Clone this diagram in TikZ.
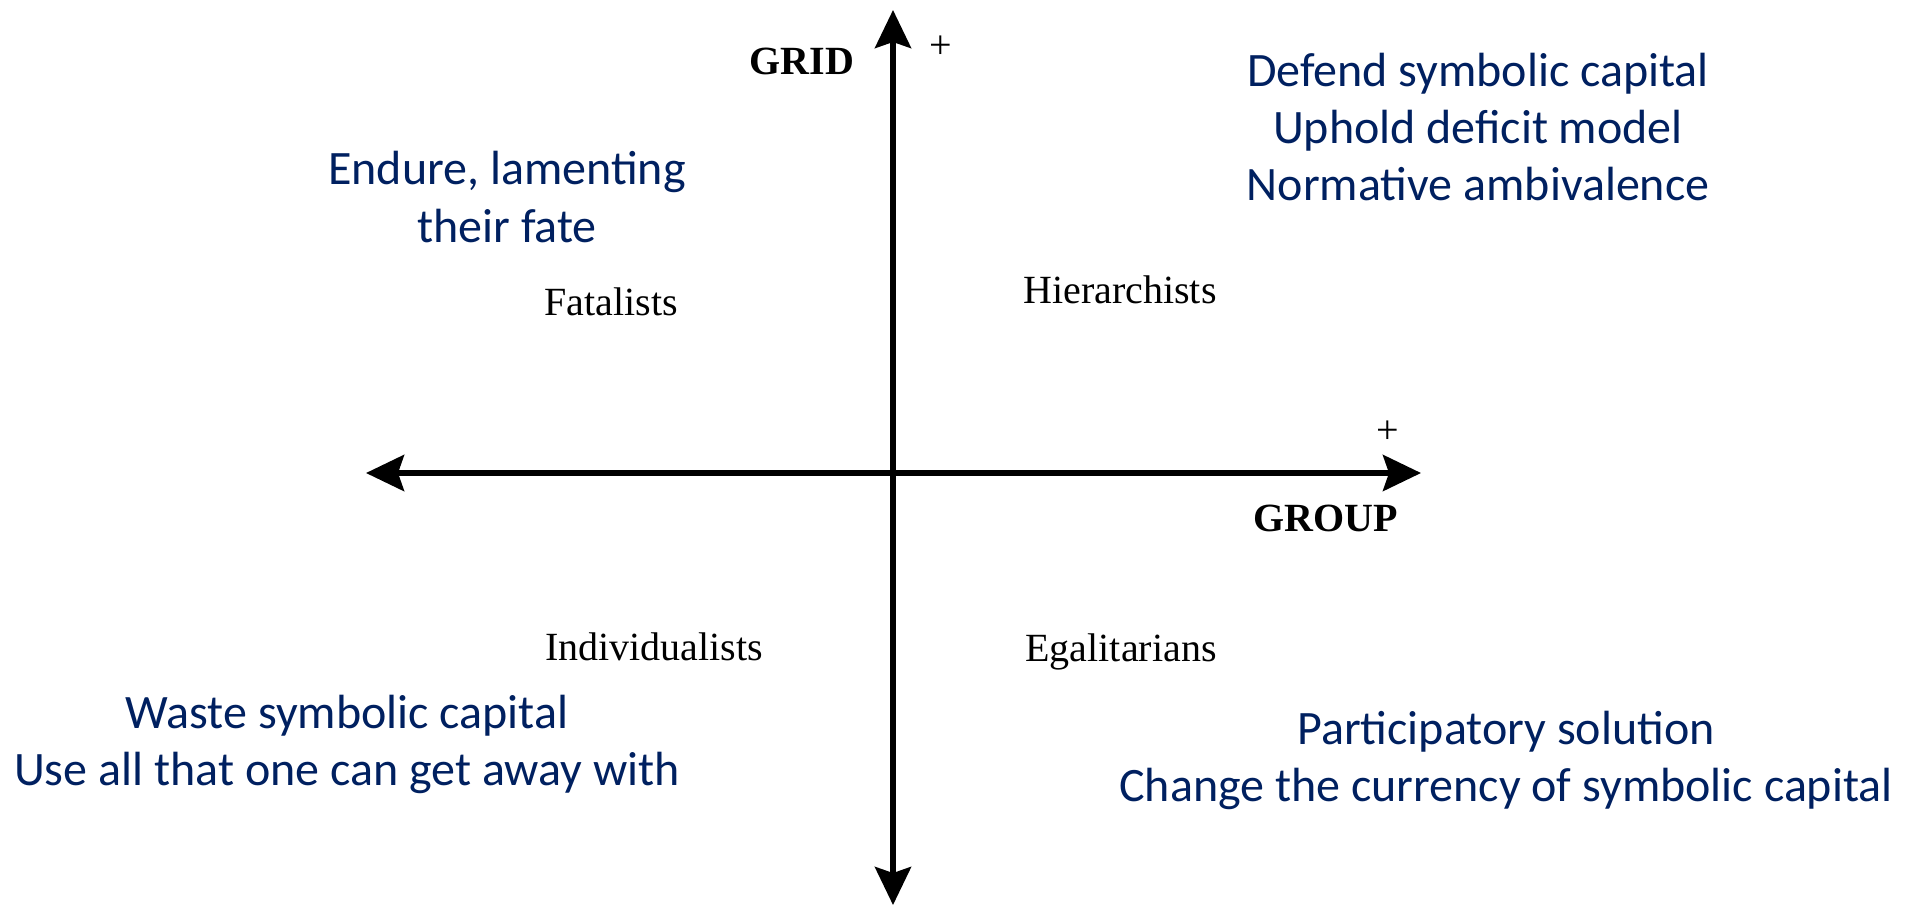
\documentclass[tikz,border=0pt]{standalone}
\usepackage{fontspec}
\setmainfont{Liberation Serif}
\newfontfamily\calibri{Carlito}
\usetikzlibrary{arrows.meta}
\definecolor{navy}{RGB}{0,32,96}
\begin{document}
\begin{tikzpicture}[x=0.5pt,y=-0.5pt,
	axis/.style={line width=2.8pt,{Stealth[length=19pt,width=18pt,inset=3pt]}-{Stealth[length=19pt,width=18pt,inset=3pt]}},
	type/.style={font=\fontsize{20}{24}\selectfont,inner sep=0},
	dim/.style={font=\fontsize{20}{24}\selectfont\bfseries,inner sep=0},
	sign/.style={font=\fontsize{20}{24}\selectfont,inner sep=0},
	strategy/.style={font=\calibri\fontsize{24}{28.5}\selectfont,text=navy,align=center,inner sep=0}]
\useasboundingbox (0,0) rectangle (1926,907);
% axes
\coordinate (gridtop) at (893,10);
\coordinate (gridbot) at (893,905);
\coordinate (groupleft) at (366,473);
\coordinate (groupright) at (1421,473);
\draw[axis] (gridbot) -- (gridtop);
\draw[axis] (groupleft) -- (groupright);
\node[dim] (grid) at (802,61) {GRID};
\node[dim] (group) at (1326,518) {GROUP};
\node[sign] (gridplus) at (941,47) {+};
\node[sign] (groupplus) at (1388,432) {+};
% the four types
\node[type] (fatal) at (611,302) {Fatalists};
\node[type] (hier) at (1120,290) {Hierarchists};
\node[type] (indiv) at (654,647) {Individualists};
\node[type] (egal) at (1121,652) {Egalitarians};
% strategies
\node[strategy] (endure) at (507,197) {Endure, lamenting\\their fate};
\node[strategy] (defend) at (1478,127) {Defend symbolic capital\\Uphold deficit model\\Normative ambivalence};
\node[strategy] (waste) at (347,744) {Waste symbolic capital\\Use all that one can get away with};
\node[strategy] (partic) at (1506,760) {Participatory solution\\Change the currency of symbolic capital};
\end{tikzpicture}
\end{document}
